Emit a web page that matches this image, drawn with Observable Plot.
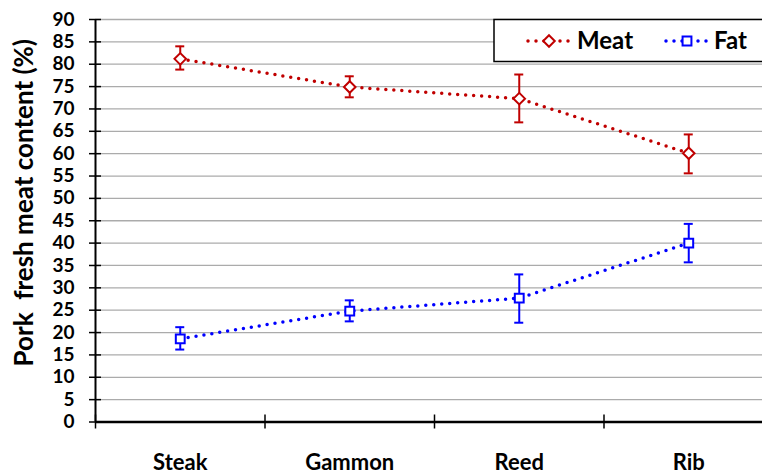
<!DOCTYPE html>
<html><head><meta charset="utf-8">
<script src="https://cdn.jsdelivr.net/npm/d3@7"></script>
<script src="https://cdn.jsdelivr.net/npm/@observablehq/plot@0.6"></script>
<style>
html,body{margin:0;padding:0;background:#fff;overflow:hidden;}
#wrap{position:relative;width:762px;height:475px;overflow:hidden;}
#wrap svg{max-width:none !important;flex:none;}
#wrap svg text{white-space:pre;}
#legend{position:absolute;left:0;top:0;pointer-events:none;}
</style></head><body><div id="wrap"></div>
<script>
const categories = ["Steak", "Gammon", "Reed", "Rib"];
const seriesNames = ["Meat", "Fat"];
const seriesColors = ["#c00000", "#0000ff"];
const meatMean = [81.2, 74.9, 72.3, 60.1];
const meatLow  = [78.8, 72.6, 67.0, 55.6];
const meatHigh = [84.0, 77.3, 77.7, 64.3];
const fatMean  = [18.6, 24.8, 27.7, 40.0];
const fatLow   = [16.2, 22.5, 22.2, 35.7];
const fatHigh  = [21.2, 27.2, 33.0, 44.3];
const yTicks = d3.range(0, 91, 5);
const yTitle = "Pork  fresh meat content (%)";

const rows = [];
categories.forEach((c, i) => {
  rows.push({cat: c, series: "Meat", mean: meatMean[i], lo: meatLow[i], hi: meatHigh[i]});
  rows.push({cat: c, series: "Fat", mean: fatMean[i], lo: fatLow[i], hi: fatHigh[i]});
});
const idx = d => categories.indexOf(d.cat);
const meatRows = rows.filter(d => d.series === "Meat");
const fatRows = rows.filter(d => d.series === "Fat");
const bandEdges = categories.map((c, i) => i - 0.5);

const chart = Plot.plot({
  width: 773, height: 475,
  marginLeft: 95, marginRight: 0, marginTop: 19, marginBottom: 53.5,
  style: {fontFamily: "Lato, sans-serif", fontWeight: "bold", color: "#000", background: "transparent", maxWidth: "none", width: "773px", height: "475px"},
  x: {type: "linear", domain: [-0.5, categories.length - 0.5], axis: null},
  y: {domain: [0, 90], axis: null},
  color: {domain: seriesNames, range: seriesColors},
  marks: [
    Plot.ruleY(yTicks.filter(t => t > 0), {stroke: "#ababab", strokeWidth: 1.3}),
    Plot.axisY({ticks: yTicks, tickSize: 12, dx: 6, tickFormat: () => "", stroke: "#000", strokeWidth: 1.5, label: null}),
    Plot.axisY({ticks: yTicks, tickSize: 0, tickPadding: 21, fontSize: 19, label: null}),
    Plot.axisX({ticks: bandEdges, tickSize: 14, dy: -7, tickFormat: () => "", stroke: "#000", strokeWidth: 1.5, label: null}),
    Plot.axisX({ticks: categories.map((c, i) => i), tickFormat: i => categories[i], tickSize: 0, tickPadding: 32, fontSize: 22, label: null}),
    Plot.ruleX([-0.5], {stroke: "#000", strokeWidth: 2}),
    Plot.ruleY([0], {stroke: "#000", strokeWidth: 2.5}),
    Plot.text([yTitle], {frameAnchor: "left", textAnchor: "middle", rotate: -90, dx: -71, dy: -18, fontSize: 26, fill: "#000"}),
    Plot.line(rows, {x: idx, y: "mean", z: "series", stroke: "series", strokeWidth: 3.5, strokeDasharray: "0 8", strokeLinecap: "round"}),
    Plot.ruleX(rows, {x: idx, y1: "lo", y2: "hi", stroke: "series", strokeWidth: 2}),
    Plot.ruleY(rows, {y: "hi", x1: idx, x2: idx, insetLeft: -4.5, insetRight: -4.5, stroke: "series", strokeWidth: 2}),
    Plot.ruleY(rows, {y: "lo", x1: idx, x2: idx, insetLeft: -4.5, insetRight: -4.5, stroke: "series", strokeWidth: 2}),
    Plot.dot(meatRows, {x: idx, y: "mean", symbol: "diamond2", r: 5.2, fill: "white", stroke: "series", strokeWidth: 2}),
    Plot.dot(fatRows, {x: idx, y: "mean", symbol: "square", r: 5, fill: "white", stroke: "series", strokeWidth: 2})
  ]
});
document.getElementById("wrap").appendChild(chart);

// legend overlay
const lg = d3.select("#wrap").append("svg").attr("id", "legend").attr("width", 762).attr("height", 475)
  .style("font-family", "Lato, sans-serif").style("font-weight", "bold");
lg.append("rect").attr("x", 494).attr("y", 19.5).attr("width", 300).attr("height", 42)
  .attr("fill", "#fff").attr("stroke", "#000").attr("stroke-width", 1.5);
const items = [
  {name: seriesNames[0], color: seriesColors[0], sym: d3.symbolDiamond2, size: Math.PI * 5.2 * 5.2, lx: 528, tx: 577},
  {name: seriesNames[1], color: seriesColors[1], sym: d3.symbolSquare, size: Math.PI * 25, lx: 666, tx: 714}
];
items.forEach(it => {
  lg.append("line").attr("x1", it.lx).attr("x2", it.lx + 42).attr("y1", 41).attr("y2", 41)
    .attr("stroke", it.color).attr("stroke-width", 3.5).attr("stroke-dasharray", "0 8").attr("stroke-linecap", "round");
  lg.append("path").attr("d", d3.symbol(it.sym, it.size)()).attr("transform", `translate(${it.lx + 21},41)`)
    .attr("fill", "#fff").attr("stroke", it.color).attr("stroke-width", 2);
  lg.append("text").attr("x", it.tx).attr("y", 41).attr("dy", "0.35em").attr("font-size", 24).attr("fill", "#000").text(it.name);
});
</script>
</body></html>
